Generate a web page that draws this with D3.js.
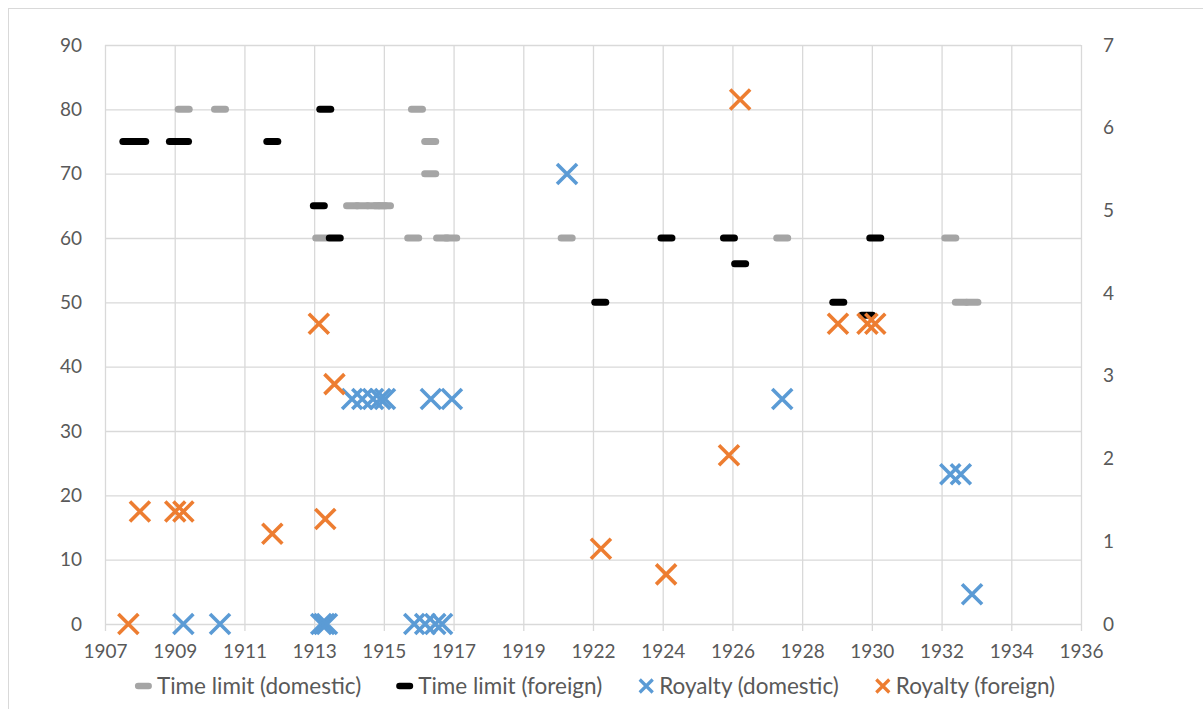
<!DOCTYPE html>
<html>
<head>
<meta charset="utf-8">
<script src="https://cdn.jsdelivr.net/npm/d3@7"></script>
<style>
  body { margin: 0; background: #fff; }
  svg { display: block; }
  text { font-family: Lato, "Open Sans", sans-serif; fill: #595959; }
</style>
</head>
<body>
<svg id="chart" width="1203" height="709"></svg>
<script>
// ---- Axis labels -------------------------------------------------------
const xTickLabels = ["1907", "1909", "1911", "1913", "1915", "1917", "1919", "1922",
                     "1924", "1926", "1928", "1930", "1932", "1934", "1936"];
const yLeftTicks = [0, 10, 20, 30, 40, 50, 60, 70, 80, 90];
const yRightTicks = [0, 1, 2, 3, 4, 5, 6, 7];
const seriesNames = ["Time limit (domestic)", "Time limit (foreign)", "Royalty (domestic)", "Royalty (foreign)"];

// ---- Time limit (domestic), left axis ----------------------------------
const timeDomYear  = [1909.98, 1911.05, 1914.03, 1914.94, 1915.24, 1915.56, 1915.77, 1915.91,
                      1916.74, 1916.85, 1917.24, 1917.24, 1917.59, 1917.86, 1921.26, 1927.61,
                      1932.56, 1932.87, 1933.21];
const timeDomValue = [80, 80, 60, 65, 65, 65, 65, 65,
                      60, 80, 75, 70, 60, 60, 60, 60,
                      60, 50, 50];

// ---- Time limit (foreign), left axis -----------------------------------
const timeForYear  = [1908.35, 1908.70, 1909.72, 1909.96, 1912.59, 1913.96, 1914.15, 1914.43,
                      1922.25, 1924.20, 1926.04, 1926.37, 1929.26, 1930.11, 1930.35];
const timeForValue = [75, 75, 75, 75, 75, 65, 80, 60,
                      50, 60, 60, 56, 50, 48, 60];

// ---- Royalty (domestic), right axis ------------------------------------
const royDomYear  = [1909.97, 1911.05, 1914.03, 1914.12, 1914.20, 1914.94, 1915.24, 1915.56,
                     1915.77, 1915.91, 1916.77, 1917.09, 1917.26, 1917.39, 1917.59, 1917.88,
                     1921.27, 1927.61, 1932.56, 1932.87, 1933.20];
const royDomValue = [0, 0, 0, 0, 0, 2.72, 2.72, 2.72,
                     2.72, 2.72, 0, 0, 2.72, 0, 0, 2.72,
                     5.44, 2.72, 1.81, 1.81, 0.36];

// ---- Royalty (foreign), right axis -------------------------------------
const royForYear  = [1908.35, 1908.69, 1909.73, 1909.97, 1912.59, 1913.96, 1914.15, 1914.42,
                     1922.27, 1924.19, 1926.04, 1926.37, 1929.25, 1930.12, 1930.35];
const royForValue = [0, 1.36, 1.36, 1.36, 1.09, 3.63, 1.27, 2.90,
                     0.91, 0.60, 2.04, 6.34, 3.63, 3.63, 3.63];

// ---- Helpers -----------------------------------------------------------
const DAY = 86400000;
const serialEpoch = Date.UTC(1899, 11, 30);
const fromSerial = s => new Date(serialEpoch + s * DAY);
function fromDecimalYear(y) {
  const Y = Math.floor(y);
  const a = Date.UTC(Y, 0, 1), b = Date.UTC(Y + 1, 0, 1);
  return new Date(a + (y - Y) * (b - a));
}
const zip = (xs, ys) => xs.map((x, i) => ({ date: fromDecimalYear(x), value: ys[i] }));

// ---- Layout ------------------------------------------------------------
const W = 1203, H = 709;
const plot = { left: 105, right: 1081, top: 45, bottom: 624 };
const axisStartSerial = 2800, axisStepDays = 750;
const xTickDates = xTickLabels.map((_, i) => fromSerial(axisStartSerial + i * axisStepDays));

const x = d3.scaleUtc()
  .domain([xTickDates[0], xTickDates[xTickDates.length - 1]])
  .range([plot.left, plot.right]);
const yL = d3.scaleLinear().domain([0, 90]).range([plot.bottom, plot.top]);
const yR = d3.scaleLinear().domain([0, 7]).range([plot.bottom, plot.top]);

const colors = ["#A5A5A5", "#000000", "#5B9BD5", "#ED7D31"];
const gridColor = "#D9D9D9";
const tickFont = "19px", legendFont = "22.5px";

const svg = d3.select("#chart");

// Chart frame
svg.append("rect")
  .attr("x", 8.5).attr("y", 8.5)
  .attr("width", W + 20).attr("height", H + 20)
  .attr("fill", "#fff").attr("stroke", gridColor).attr("stroke-width", 1);

// Horizontal gridlines + left labels
const gL = svg.append("g")
  .attr("transform", `translate(${plot.left},0)`)
  .call(d3.axisLeft(yL).tickValues(yLeftTicks).tickFormat(d3.format("d"))
    .tickSize(-(plot.right - plot.left)).tickPadding(23));
gL.select(".domain").remove();
gL.selectAll(".tick line").attr("stroke", gridColor).attr("stroke-width", 1.3);
gL.selectAll(".tick text").style("font-size", tickFont).attr("fill", "#595959");

// Vertical gridlines with tick marks below the axis
const gX = svg.append("g")
  .attr("transform", `translate(0,${plot.bottom})`)
  .call(d3.axisBottom(x).tickValues(xTickDates)
    .tickFormat((d, i) => xTickLabels[i])
    .tickSizeInner(-(plot.bottom - plot.top)).tickSizeOuter(0).tickPadding(21));
gX.select(".domain").remove();
gX.selectAll(".tick line")
  .attr("y1", 7)
  .attr("stroke", gridColor).attr("stroke-width", 1.3);
gX.selectAll(".tick text").style("font-size", tickFont).attr("fill", "#595959");

// Right axis labels
const gR = svg.append("g")
  .attr("transform", `translate(${plot.right},0)`)
  .call(d3.axisRight(yR).tickValues(yRightTicks).tickFormat(d3.format("d"))
    .tickSize(0).tickPadding(22));
gR.select(".domain").remove();
gR.selectAll(".tick text").style("font-size", tickFont).attr("fill", "#595959");

// ---- Markers -----------------------------------------------------------
const dashW = 18, dashH = 7;
const xArm = 10;

function drawDashes(data, color, yScale) {
  svg.append("g").selectAll("rect").data(data).join("rect")
    .attr("x", d => x(d.date) - dashW / 2)
    .attr("y", d => yScale(d.value) - dashH / 2)
    .attr("width", dashW).attr("height", dashH)
    .attr("rx", dashH / 2)
    .attr("fill", color);
}
function drawCrosses(data, color, yScale) {
  svg.append("g").selectAll("path").data(data).join("path")
    .attr("transform", d => `translate(${x(d.date)},${yScale(d.value)})`)
    .attr("d", `M${-xArm},${-xArm}L${xArm},${xArm}M${-xArm},${xArm}L${xArm},${-xArm}`)
    .attr("fill", "none")
    .attr("stroke", color).attr("stroke-width", 3.6);
}

drawDashes(zip(timeDomYear, timeDomValue), colors[0], yL);
drawDashes(zip(timeForYear, timeForValue), colors[1], yL);
drawCrosses(zip(royDomYear, royDomValue), colors[2], yR);
drawCrosses(zip(royForYear, royForValue), colors[3], yR);

// ---- Legend ------------------------------------------------------------
const legendY = 686, legendCenter = 595, markerBox = 18, markerGap = 4, itemGap = 35;
const legend = svg.append("g");
const items = seriesNames.map((name, i) => {
  const g = legend.append("g");
  const t = g.append("text")
    .attr("x", markerBox + markerGap).attr("y", legendY)
    .attr("dy", "0.35em").style("font-size", legendFont).text(name);
  const w = markerBox + markerGap + t.node().getComputedTextLength();
  if (i < 2) {
    g.append("rect")
      .attr("x", 0).attr("y", legendY - 3.25)
      .attr("width", markerBox - 1).attr("height", 6.5).attr("rx", 3.25)
      .attr("fill", colors[i]);
  } else {
    const a = 6.5, c = markerBox / 2;
    g.append("path")
      .attr("d", `M${c - a},${legendY - a}L${c + a},${legendY + a}M${c - a},${legendY + a}L${c + a},${legendY - a}`)
      .attr("stroke", colors[i]).attr("stroke-width", 3.2).attr("fill", "none");
  }
  return { g, w };
});
const total = d3.sum(items, d => d.w) + itemGap * (items.length - 1);
let cursor = legendCenter - total / 2;
items.forEach(it => {
  it.g.attr("transform", `translate(${cursor},0)`);
  cursor += it.w + itemGap;
});
</script>
</body>
</html>
